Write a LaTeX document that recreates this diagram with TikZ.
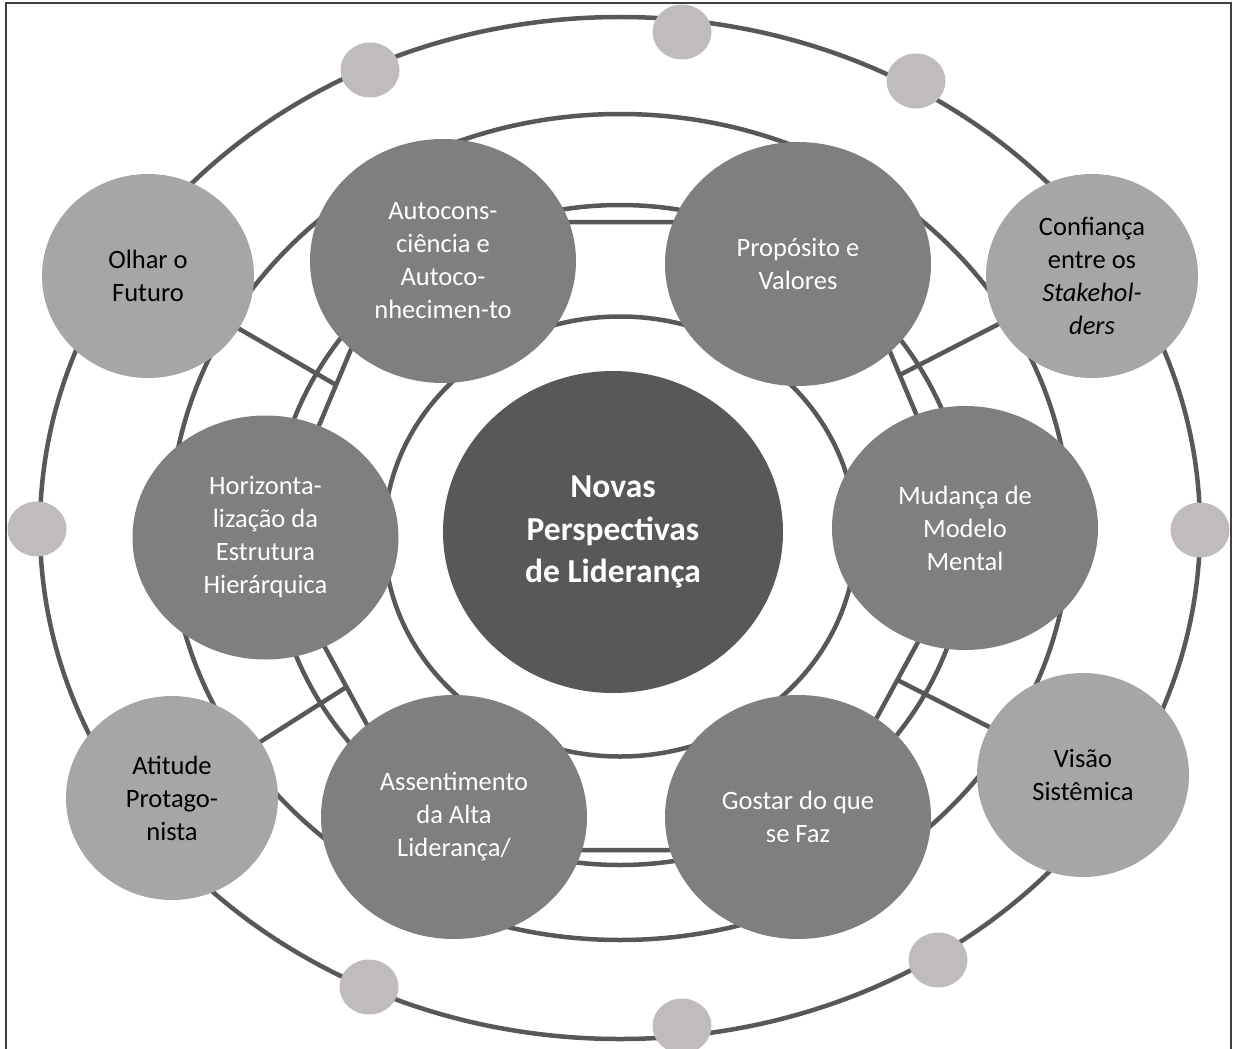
\documentclass[tikz,border=0pt]{standalone}
\usepackage{fontspec}
\setmainfont{Carlito}
\usetikzlibrary{shapes.geometric,calc}
\pgfdeclarelayer{bg}
\pgfsetlayers{bg,main}
\definecolor{linecol}{RGB}{88,88,86}
\definecolor{corecol}{RGB}{89,88,86}
\definecolor{midcol}{RGB}{127,127,125}
\definecolor{rimcol}{RGB}{166,166,164}
\definecolor{dotcol}{RGB}{192,188,187}
\definecolor{framecol}{RGB}{64,64,64}
\begin{document}
\begin{tikzpicture}[x=1pt,y=-1pt,
  ringline/.style={draw=linecol,line width=4.5pt},
  spokeline/.style={draw=linecol,line width=4.5pt},
  blob/.style={ellipse,inner sep=0pt,align=center,font=\fontsize{26.5}{33}\selectfont},
  corebox/.style={blob,fill=corecol,text=white,minimum width=340pt,minimum height=322pt,
    font=\bfseries\fontsize{33.5}{42.5}\selectfont},
  midbox/.style={blob,fill=midcol,text=white,minimum width=266pt,minimum height=244pt},
  rimbox/.style={blob,fill=rimcol,text=black,minimum width=212pt,minimum height=204pt},
  dotbox/.style={ellipse,inner sep=0pt,fill=dotcol,minimum width=59pt,minimum height=55pt}]
\useasboundingbox (0,0) rectangle (1237,1049);

% outer frame (open at the bottom)
\draw[framecol,line width=1.5pt] (6,1049) -- (6,3) -- (1231,3) -- (1231,1049);

% outer ring of themes
\node[rimbox] (olhar) at (148,276) {Olhar o\\Futuro};
\node[rimbox] (conf) at (1092,276) {Confiança\\entre os\\\textit{Stakehol-}\\\textit{ders}};
\node[rimbox] (atit) at (172,798) {Atitude\\Protago-\\nista};
\node[rimbox] (visao) at (1083,775) {Visão\\Sistêmica};

% inner ring of themes
\node[midbox] (autoc) at (443,261) {Autocons-\\ciência e\\Autoco-\\nhecimen-to};
\node[midbox] (prop) at (798,264) {Propósito e\\Valores};
\node[midbox] (horiz) at (265.5,537.5) {Horizonta-\\lização da\\Estrutura\\Hierárquica};
\node[midbox] (mud) at (965,528) {Mudança de\\Modelo\\Mental};
\node[midbox] (assent) at (454,817) {Assentimento\\da Alta\\Liderança/};
\node[midbox] (gostar) at (798,817) {Gostar do que\\se Faz};

% core
\node[corebox] (core) at (613,532) {Novas\\Perspectivas\\de Liderança};

% small orbit dots
\node[dotbox] (dtop) at (682,32) {};
\node[dotbox] (dul) at (370,70) {};
\node[dotbox] (dur) at (916,81) {};
\node[dotbox] (dleft) at (37,529) {};
\node[dotbox] (dright) at (1200,530) {};
\node[dotbox] (dll) at (369,987) {};
\node[dotbox] (dlr) at (938,960) {};
\node[dotbox] (dbot) at (682,1026) {};

% corners of the inner hexagonal track
\coordinate (h1) at (404.5,222);
\coordinate (h2) at (835.5,222);
\coordinate (h3) at (971,544.7);
\coordinate (h4) at (804.7,850);
\coordinate (h5) at (435.3,850);
\coordinate (h6) at (269,544.7);

% where the spokes meet the hexagonal track
\coordinate (sOlhar) at ($(h1)!0.505!(h6)$);
\coordinate (sConf) at ($(h2)!0.474!(h3)$);
\coordinate (sAtit) at ($(h6)!0.466!(h5)$);
\coordinate (sVisao) at ($(h3)!0.443!(h4)$);

\begin{pgfonlayer}{bg}
  % orbits
  \draw[ringline] (620,528) ellipse [x radius=580pt, y radius=511pt];
  \draw[ringline] (620,527) ellipse [x radius=450pt, y radius=413pt];
  \draw[ringline] (620,535) ellipse [x radius=348pt, y radius=330pt];
  \draw[ringline,line join=round] (h1) -- (h2) -- (h3) -- (h4) -- (h5) -- (h6) -- cycle;
  \draw[ringline] (620,536.5) ellipse [x radius=236pt, y radius=220pt];
  % spokes
  \draw[spokeline] (olhar.center) -- (sOlhar);
  \draw[spokeline] (conf.center) -- (sConf);
  \draw[spokeline] (atit.center) -- (sAtit);
  \draw[spokeline] (visao.center) -- (sVisao);
\end{pgfonlayer}
\end{tikzpicture}
\end{document}
